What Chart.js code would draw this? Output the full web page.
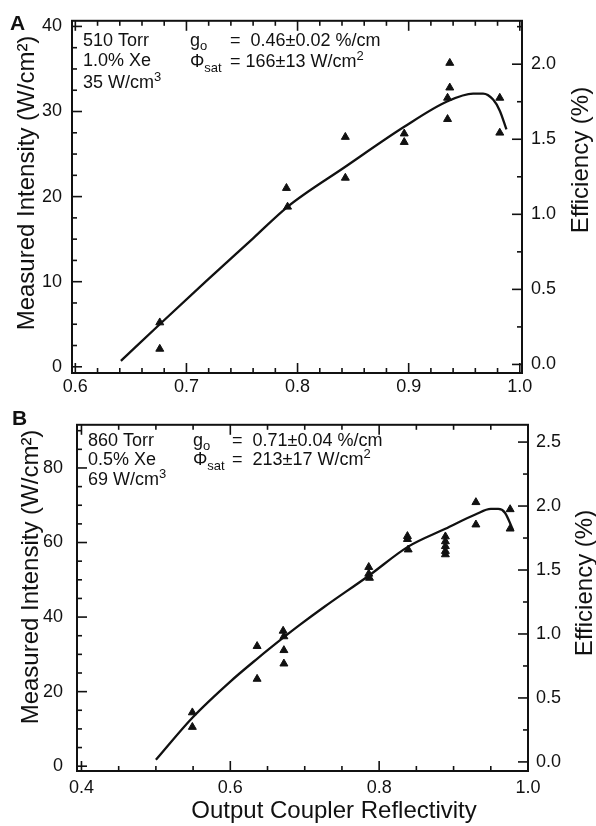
<!DOCTYPE html>
<html>
<head>
<meta charset="utf-8">
<script src="https://cdn.jsdelivr.net/npm/chart.js@4.4.1/dist/chart.umd.min.js"></script>
<style>
  html, body { margin: 0; padding: 0; background: #fff; }
  #wrap { position: relative; width: 596px; height: 826px; }
  canvas { position: absolute; left: 0; }
  #chartA { top: 0; }
  #chartB { top: 400px; }
</style>
</head>
<body>
<div id="wrap">
  <canvas id="chartA" width="596" height="400"></canvas>
  <canvas id="chartB" width="596" height="426"></canvas>
</div>
<script>
// ---- panel A : 510 Torr, 1.0% Xe ----
const reflA      = [0.676, 0.676, 0.790, 0.791, 0.843, 0.843, 0.896, 0.896, 0.937, 0.937, 0.935, 0.935, 0.982, 0.982];
const intensityA = [5.2,   2.1,   21.0,  18.8,  27.0,  22.2,  27.4,  26.4,  35.7,  32.8,  31.6,  29.1,  31.6,  27.5];
const fitReflA      = [0.641, 0.676, 0.718, 0.760, 0.791, 0.843, 0.896, 0.935, 0.958, 0.967, 0.976, 0.982, 0.988];
const fitIntensityA = [0.7,   5.0,   10.1,  15.1,  18.8,  23.5,  28.2,  31.2,  32.1,  32.1,  31.4,  30.1,  27.9];
const xTicksA   = [0.6, 0.7, 0.8, 0.9, 1.0];
const yTicksA   = [0, 10, 20, 30, 40];
const effTicksA = [0.0, 0.5, 1.0, 1.5, 2.0];

// ---- panel B : 860 Torr, 0.5% Xe ----
const reflB      = [0.549, 0.549, 0.636, 0.636, 0.671, 0.672, 0.672, 0.672, 0.786, 0.786, 0.787, 0.838, 0.838, 0.839,
                    0.889, 0.889, 0.889, 0.889, 0.889, 0.930, 0.930, 0.976, 0.976];
const intensityB = [14.4,  10.5,  32.2,  23.4,  36.3,  34.8,  31.1,  27.5,  53.4,  51.6,  50.5,  61.7,  60.9,  58.1,
                    61.6,  60.3,  59.0,  57.7,  56.8,  70.8,  64.8,  68.9,  63.7];
const fitReflB      = [0.500, 0.549, 0.600, 0.636, 0.672, 0.692, 0.726, 0.786, 0.839, 0.889, 0.930, 0.950, 0.960, 0.969, 0.980];
const fitIntensityB = [1.7,   13.0,  22.7,  28.8,  34.6,  37.7,  42.7,  51.1,  58.9,  63.7,  67.6,  69.0,  69.0,  68.0,  63.3];
const xTicksB   = [0.4, 0.6, 0.8, 1.0];
const yTicksB   = [0, 20, 40, 60, 80];
const effTicksB = [0.0, 0.5, 1.0, 1.5, 2.0, 2.5];

const FONT = '"Liberation Sans", Arial, Helvetica, sans-serif';
const INK = '#111';

function steps(from, to, step) {
  const out = [];
  const n = Math.round((to - from) / step);
  for (let i = 0; i <= n; i++) out.push(+(from + i * step).toFixed(4));
  return out;
}
function isMajor(v, list) { return list.some(m => Math.abs(m - v) < 1e-6); }

// draws text made of pieces [text, size, dy]
function drawRich(ctx, x, y, parts) {
  for (const [t, size, dy] of parts) {
    ctx.font = size + 'px ' + FONT;
    ctx.fillText(t, x, y + (dy || 0));
    x += ctx.measureText(t).width;
  }
}

// frame, inward tick marks, titles and annotations
const decor = {
  id: 'decor',
  afterDraw(chart, args, o) {
    const { ctx, chartArea: a, scales } = chart;
    ctx.save();
    ctx.strokeStyle = INK;
    ctx.fillStyle = INK;
    ctx.lineCap = 'butt';
    const line = (x1, y1, x2, y2) => { ctx.beginPath(); ctx.moveTo(x1, y1); ctx.lineTo(x2, y2); ctx.stroke(); };

    ctx.lineWidth = 1.6;
    for (const v of steps(o.xMinor[0], o.xMinor[1], o.xMinor[2])) {
      const px = scales.x.getPixelForValue(v);
      const L = isMajor(v, o.xMajor) ? 10 : 5;
      line(px, a.bottom, px, a.bottom - L);
      line(px, a.top, px, a.top + L);
    }
    for (const v of steps(o.yMinor[0], o.yMinor[1], o.yMinor[2])) {
      const py = scales.y.getPixelForValue(v);
      line(a.left, py, a.left + (isMajor(v, o.yMajor) ? 10 : 5), py);
    }
    for (const v of steps(o.eMinor[0], o.eMinor[1], o.eMinor[2])) {
      const py = scales.y2.getPixelForValue(v);
      line(a.right, py, a.right - (isMajor(v, o.eMajor) ? 10 : 5), py);
    }
    ctx.lineWidth = 2;
    ctx.strokeRect(a.left, a.top, a.right - a.left, a.bottom - a.top);

    // axis titles
    ctx.textBaseline = 'alphabetic';
    ctx.textAlign = 'center';
    ctx.font = '24px ' + FONT;
    ctx.save();
    ctx.translate(o.leftTitle[0], o.leftTitle[1]);
    ctx.rotate(-Math.PI / 2);
    ctx.fillText('Measured Intensity (W/cm\u00B2)', 0, 0);
    ctx.restore();
    ctx.save();
    ctx.translate(o.rightTitle[0], o.rightTitle[1]);
    ctx.rotate(-Math.PI / 2);
    ctx.fillText('Efficiency (%)', 0, 0);
    ctx.restore();
    if (o.xTitle) ctx.fillText('Output Coupler Reflectivity', o.xTitle[0], o.xTitle[1]);

    // panel letter
    ctx.textAlign = 'left';
    ctx.font = 'bold 21px ' + FONT;
    ctx.fillText(o.letter[0], o.letter[1], o.letter[2]);

    // annotations
    for (const n of o.notes) drawRich(ctx, n[0], n[1], n[2]);
    ctx.restore();
  }
};

function makePanel(id, p) {
  const tickFont = { family: FONT, size: 18 };
  return new Chart(document.getElementById(id), {
    type: 'scatter',
    data: {
      datasets: [
        {
          label: 'fit',
          data: p.fitX.map((x, i) => ({ x, y: p.fitY[i] })),
          showLine: true,
          borderColor: INK,
          borderWidth: 2.3,
          pointRadius: 0,
          cubicInterpolationMode: 'monotone',
          xAxisID: 'x', yAxisID: 'y'
        },
        {
          label: 'measured',
          data: p.ptX.map((x, i) => ({ x, y: p.ptY[i] })),
          pointStyle: 'triangle',
          pointRadius: 4.6,
          backgroundColor: INK,
          borderColor: INK,
          borderWidth: 1,
          xAxisID: 'x', yAxisID: 'y'
        }
      ]
    },
    options: {
      responsive: false,
      animation: false,
      devicePixelRatio: 1,
      layout: { padding: { top: p.top, left: 0, right: 0, bottom: 0 } },
      plugins: { legend: { display: false }, tooltip: { enabled: false }, decor: p.decor },
      scales: {
        x: {
          type: 'linear', position: 'bottom', min: p.xRange[0], max: p.xRange[1],
          afterBuildTicks: s => { s.ticks = p.xTicks.map(v => ({ value: v })); },
          afterFit: s => { s.height = p.xAxisH; },
          grid: { display: false, drawTicks: false }, border: { display: false },
          ticks: { padding: p.xPad, color: INK, font: tickFont, autoSkip: false, maxRotation: 0,
                   callback: v => v.toFixed(1) }
        },
        y: {
          type: 'linear', position: 'left', min: p.yRange[0], max: p.yRange[1],
          afterBuildTicks: s => { s.ticks = p.yTicks.map(v => ({ value: v })); },
          afterFit: s => { s.width = p.leftW; },
          grid: { display: false, drawTicks: false }, border: { display: false },
          ticks: { padding: p.yPad, color: INK, font: tickFont, callback: v => String(v) }
        },
        y2: {
          type: 'linear', position: 'right', min: p.eRange[0], max: p.eRange[1],
          afterBuildTicks: s => { s.ticks = p.eTicks.map(v => ({ value: v })); },
          afterFit: s => { s.width = p.rightW; },
          grid: { display: false, drawTicks: false }, border: { display: false },
          ticks: { padding: p.ePad, color: INK, font: tickFont, callback: v => v.toFixed(1) }
        }
      }
    },
    plugins: [decor]
  });
}

makePanel('chartA', {
  ptX: reflA, ptY: intensityA, fitX: fitReflA, fitY: fitIntensityA,
  xTicks: xTicksA, yTicks: yTicksA, eTicks: effTicksA,
  xRange: [0.597, 1.002], yRange: [-0.73, 40.66], eRange: [-0.057, 2.289],
  top: 15, xAxisH: 27, leftW: 72, rightW: 74, xPad: 3, yPad: 10, ePad: 9,
  decor: {
    xMinor: [0.6, 1.0, 0.02], xMajor: xTicksA,
    yMinor: [0, 40, 2.5], yMajor: yTicksA,
    eMinor: [0, 2.25, 0.25], eMajor: effTicksA,
    leftTitle: [34, 183], rightTitle: [588, 160], xTitle: null,
    letter: ['A', 10, 30],
    notes: [
      [83, 46, [['510 Torr', 18]]],
      [83, 66, [['1.0% Xe', 18]]],
      [83, 88, [['35 W/cm', 18], ['3', 13, -7]]],
      [190, 46, [['g', 18], ['o', 13, 4]]],
      [230, 46, [['=  0.46\u00B10.02 %/cm', 18]]],
      [190, 67, [['\u03A6', 18], ['sat', 13, 5]]],
      [230, 67, [['= 166\u00B113 W/cm', 18], ['2', 13, -7]]]
    ]
  }
});

makePanel('chartB', {
  ptX: reflB, ptY: intensityB, fitX: fitReflB, fitY: fitIntensityB,
  xTicks: xTicksB, yTicks: yTicksB, eTicks: effTicksB,
  xRange: [0.394, 1.0], yRange: [-1.29, 91.58], eRange: [-0.071, 2.635],
  top: 10, xAxisH: 55, leftW: 77, rightW: 68, xPad: 6, yPad: 14, ePad: 8,
  decor: {
    xMinor: [0.4, 1.0, 0.05], xMajor: xTicksB,
    yMinor: [0, 90, 5], yMajor: yTicksB,
    eMinor: [0, 2.5, 0.25], eMajor: effTicksB,
    leftTitle: [38, 177], rightTitle: [592, 183], xTitle: [334, 418],
    letter: ['B', 12, 25],
    notes: [
      [88, 46, [['860 Torr', 18]]],
      [88, 65, [['0.5% Xe', 18]]],
      [88, 85, [['69 W/cm', 18], ['3', 13, -7]]],
      [193, 46, [['g', 18], ['o', 13, 4]]],
      [232, 46, [['=  0.71\u00B10.04 %/cm', 18]]],
      [193, 65, [['\u03A6', 18], ['sat', 13, 5]]],
      [232, 65, [['=  213\u00B117 W/cm', 18], ['2', 13, -7]]]
    ]
  }
});
</script>
</body>
</html>
